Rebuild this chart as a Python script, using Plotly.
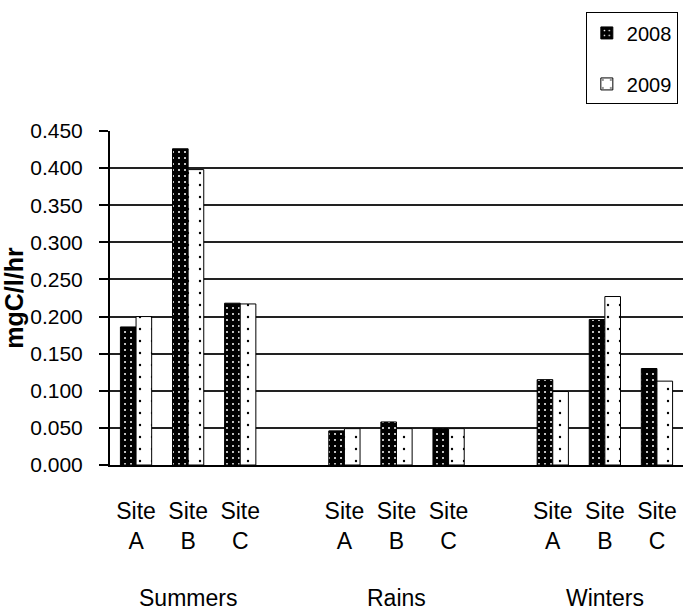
import plotly.graph_objects as go

# Seasonal rate data (mgC/l/hr) for three sites, two years
seasons = ["Summers", "Rains", "Winters"]
sites = ["A", "B", "C"]
rate_2008 = [0.186, 0.426, 0.218,
             0.046, 0.058, 0.049,
             0.115, 0.196, 0.130]
rate_2009 = [0.200, 0.398, 0.217,
             0.049, 0.049, 0.049,
             0.099, 0.227, 0.113]
y_ticks = [0.0, 0.05, 0.10, 0.15, 0.20, 0.25, 0.30, 0.35, 0.40, 0.45]

FONT = "Liberation Sans, Arial, sans-serif"

# one blank slot between seasons: slot = season_index*4 + site_index
xpos = [si * 4 + k for si in range(len(seasons)) for k in range(len(sites))]
xtext = ["Site<br>" + s for _ in seasons for s in sites]
season_centers = [si * 4 + 1 for si in range(len(seasons))]

fig = go.Figure()
fig.add_trace(go.Bar(
    x=xpos, y=rate_2008, name="2008", legendgroup="a",
    marker=dict(color="black", line=dict(color="black", width=1),
                pattern=dict(shape=".", fgcolor="white", bgcolor="black",
                             size=6, solidity=0.09, fillmode="replace")),
))
fig.add_trace(go.Bar(
    x=xpos, y=rate_2009, name="2009", legendgroup="b",
    marker=dict(color="white", line=dict(color="black", width=1),
                pattern=dict(shape=".", fgcolor="black", bgcolor="white",
                             size=12, solidity=0.03, fillmode="replace")),
))

for c, name in zip(season_centers, seasons):
    fig.add_annotation(x=c, y=-0.398, xref="x", yref="paper", text=name,
                       showarrow=False, yanchor="middle",
                       font=dict(family=FONT, size=23, color="black"))

fig.update_layout(
    width=683, height=613,
    margin=dict(l=110, r=0, t=131, b=148),
    paper_bgcolor="white", plot_bgcolor="white",
    barmode="group", bargap=0.4, bargroupgap=0,
    font=dict(family=FONT, color="black"),
    legend=dict(x=0.991, y=1.355, xanchor="right", yanchor="top",
                bordercolor="black", borderwidth=1, bgcolor="white",
                traceorder="grouped", tracegroupgap=22,
                font=dict(family=FONT, size=20, color="black")),
    xaxis=dict(range=[-0.5, 10.5], tickmode="array", tickvals=xpos,
               ticktext=xtext, ticks="", showgrid=False, zeroline=False,
               showline=True, linecolor="black", linewidth=2,
               ticklabelstandoff=24,
               tickfont=dict(family=FONT, size=23, color="black")),
    yaxis=dict(range=[0, 0.45], tickmode="array", tickvals=y_ticks,
               tickformat=".3f", ticks="outside", ticklen=9, tickwidth=2,
               tickcolor="black", showline=True, linecolor="black",
               linewidth=2, showgrid=True, gridcolor="#222", gridwidth=2,
               zeroline=False, ticklabelstandoff=12,
               tickfont=dict(family=FONT, size=21, color="black")),
)
fig.update_yaxes(title=dict(text="<b>mgC/l/hr</b>", standoff=8,
                            font=dict(family=FONT, size=25, color="black")))

fig.write_html("out.html")
